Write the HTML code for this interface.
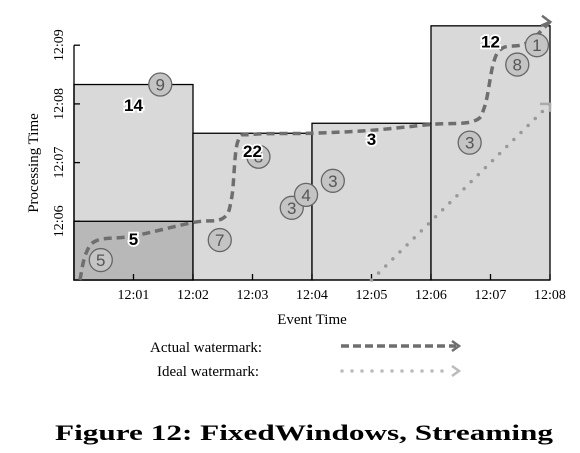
<!DOCTYPE html>
<html><head><meta charset="utf-8">
<style>
html,body{margin:0;padding:0;background:#fff;width:580px;height:453px;overflow:hidden}
svg text{font-family:"Liberation Serif",serif}
</style></head>
<body>
<svg id="chart" width="580" height="453" viewBox="0 0 580 453" xmlns="http://www.w3.org/2000/svg">
<g id="plot"></g>
</svg>
<script>
// minutes after 12:00
const xTicks=[1,2,3,4,5,6,7,8];
const xTickLabels=["12:01","12:02","12:03","12:04","12:05","12:06","12:07","12:08"];
const yTicks=[6,7,8,9];
const yTickLabels=["12:06","12:07","12:08","12:09"];
const windowStart=[0,2,4,6];
const windowEnd=[2,4,6,8];
const windowTop=[8.33,7.5,7.67,9.33];
const windowEarly=[6,null,null,null];
const eventTime=[0.45,1.45,2.45,3.1,3.66,3.9,4.35,6.65,7.45,7.78];
const procTime=[5.34,8.33,5.68,7.1,6.23,6.45,6.69,7.34,8.67,9.0];
const eventValue=["5","9","7","8","3","4","3","3","8","1"];
const resultX=[1,1,3,5,7];
const resultY=[7.98,5.7,7.2,7.4,9.06];
const resultValue=["14","5","22","3","12"];
const actualWmX=[0.1,0.2,0.4,1,2,2.5,2.65,2.75,3,4,5,6,6.7,6.9,7.05,7.2,7.5,7.7,8];
const actualWmY=[5,5.45,5.68,5.75,5.98,6.05,6.4,7.35,7.48,7.5,7.55,7.65,7.7,7.95,8.7,8.95,9,9.1,9.4];
const idealWmX=[5,8];
const idealWmY=[5,8];

const X0=74,XS=59.5,Y0=280,YS=58.7;
const sx=v=>X0+v*XS, sy=v=>Y0-(v-5)*YS;
const NS="http://www.w3.org/2000/svg";
const svg=document.getElementById('chart');
function mk(t,a,p){const e=document.createElementNS(NS,t);for(const k in a)e.setAttribute(k,a[k]);(p||svg).appendChild(e);return e;}

for(let i=0;i<windowStart.length;i++){
  const r=mk('rect',{x:sx(windowStart[i]),y:sy(windowTop[i]),width:sx(windowEnd[i])-sx(windowStart[i]),height:Y0-sy(windowTop[i]),fill:'#d9d9d9',stroke:'#000','stroke-width':1.3});
  
  
  if(windowEarly[i]!==null){
    const d=mk('rect',{x:sx(windowStart[i]),y:sy(windowEarly[i]),width:sx(windowEnd[i])-sx(windowStart[i]),height:Y0-sy(windowEarly[i]),fill:'#b8b8b8',stroke:'#000','stroke-width':1.3});
    
    
  }
}
const ax=mk('path',{d:`M${X0} ${sy(9)} V${Y0} H${sx(8)}`,fill:'none',stroke:'#000','stroke-width':1.3});


xTicks.forEach((t,i)=>{
  mk('line',{x1:sx(t),x2:sx(t),y1:Y0,y2:Y0-6,stroke:'#000','stroke-width':1.3});
  const l=mk('text',{x:sx(t),y:Y0+19,'text-anchor':'middle','font-size':14,fill:'#000'});
  l.textContent=xTickLabels[i];
  
  
});
yTicks.forEach((t,i)=>{
  mk('line',{x1:X0,x2:X0+6,y1:sy(t),y2:sy(t),stroke:'#000','stroke-width':1.3});
  const l=mk('text',{x:0,y:0,'text-anchor':'middle','font-size':14,fill:'#000',transform:`translate(${X0-11},${sy(t)}) rotate(-90)`});
  l.textContent=yTickLabels[i];
  
  
});
const xt=mk('text',{x:312,y:324,'text-anchor':'middle','font-size':15});xt.textContent='Event Time';


const yt=mk('text',{x:0,y:0,'text-anchor':'middle','font-size':15,transform:'translate(38,163) rotate(-90)'});yt.textContent='Processing Time';



let dI=`M${sx(idealWmX[0])} ${sy(idealWmY[0])}`;for(let i=1;i<idealWmX.length;i++)dI+=` L${sx(idealWmX[i])} ${sy(idealWmY[i])}`;
const iw=mk('path',{d:dI,fill:'none',stroke:'#999','stroke-width':3.5,'stroke-dasharray':'0 10','stroke-linecap':'round'});


function smooth(xs,ys){let p=xs.map((x,i)=>[sx(x),sy(ys[i])]);let d=`M${p[0][0]} ${p[0][1]}`;
for(let i=0;i<p.length-1;i++){const p0=p[Math.max(0,i-1)],p1=p[i],p2=p[i+1],p3=p[Math.min(p.length-1,i+2)];
d+=` C${p1[0]+(p2[0]-p0[0])/6} ${p1[1]+(p2[1]-p0[1])/6} ${p2[0]-(p3[0]-p1[0])/6} ${p2[1]-(p3[1]-p1[1])/6} ${p2[0]} ${p2[1]}`;}return d;}
const aw=mk('path',{d:smooth(actualWmX,actualWmY),fill:'none',stroke:'#6e6e6e','stroke-width':3.5,'stroke-dasharray':'8 5'});


const ae=[sx(8),sy(9.4)];
mk('path',{d:`M${ae[0]-8} ${ae[1]-6} L${ae[0]} ${ae[1]} L${ae[0]-9} ${ae[1]+4}`,fill:'none',stroke:'#6e6e6e','stroke-width':2.5});
const ie=[sx(8),sy(8)];
mk('path',{d:`M${ie[0]-10} ${ie[1]} L${ie[0]} ${ie[1]} L${ie[0]} ${ie[1]+8}`,fill:'none',stroke:'#aaa','stroke-width':2.5});

eventTime.forEach((e,i)=>{
  const g=mk('g',{});
  
  
  mk('circle',{cx:sx(e),cy:sy(procTime[i]),r:11.5,fill:'#c4c4c4',stroke:'#666','stroke-width':1.3},g);
  const t=mk('text',{x:sx(e),y:sy(procTime[i])+6,'text-anchor':'middle','font-size':17,fill:'#555',style:'font-family:"Liberation Sans",sans-serif'},g);
  t.textContent=eventValue[i];
});
resultX.forEach((x,i)=>{
  const t=mk('text',{x:sx(x),y:sy(resultY[i])+6,'text-anchor':'middle','font-size':17,'font-weight':'bold',fill:'#000',stroke:'#fff','stroke-width':3.5,'paint-order':'stroke',style:'font-family:"Liberation Sans",sans-serif'});
  t.textContent=resultValue[i];
  
  
});
const l1=mk('text',{x:150,y:352,'font-size':15});l1.textContent='Actual watermark:';


const l2=mk('text',{x:157,y:376,'font-size':15});l2.textContent='Ideal watermark:';


const la=mk('line',{x1:341,x2:456,y1:346,y2:346,stroke:'#6e6e6e','stroke-width':3.5,'stroke-dasharray':'8 4'});


mk('path',{d:'M452 341 L459 346 L452 351',fill:'none',stroke:'#6e6e6e','stroke-width':2.5});
const li=mk('line',{x1:342,x2:452,y1:371,y2:371,stroke:'#bbb','stroke-width':3.5,'stroke-dasharray':'0 10','stroke-linecap':'round'});


mk('path',{d:'M452 366 L459 371 L452 376',fill:'none',stroke:'#bbb','stroke-width':2.5});
const c=mk('text',{x:55,y:440,'font-size':22,'font-weight':'bold',textLength:498,lengthAdjust:'spacingAndGlyphs'});
c.textContent='Figure 12: FixedWindows, Streaming';


</script>
</body></html>
